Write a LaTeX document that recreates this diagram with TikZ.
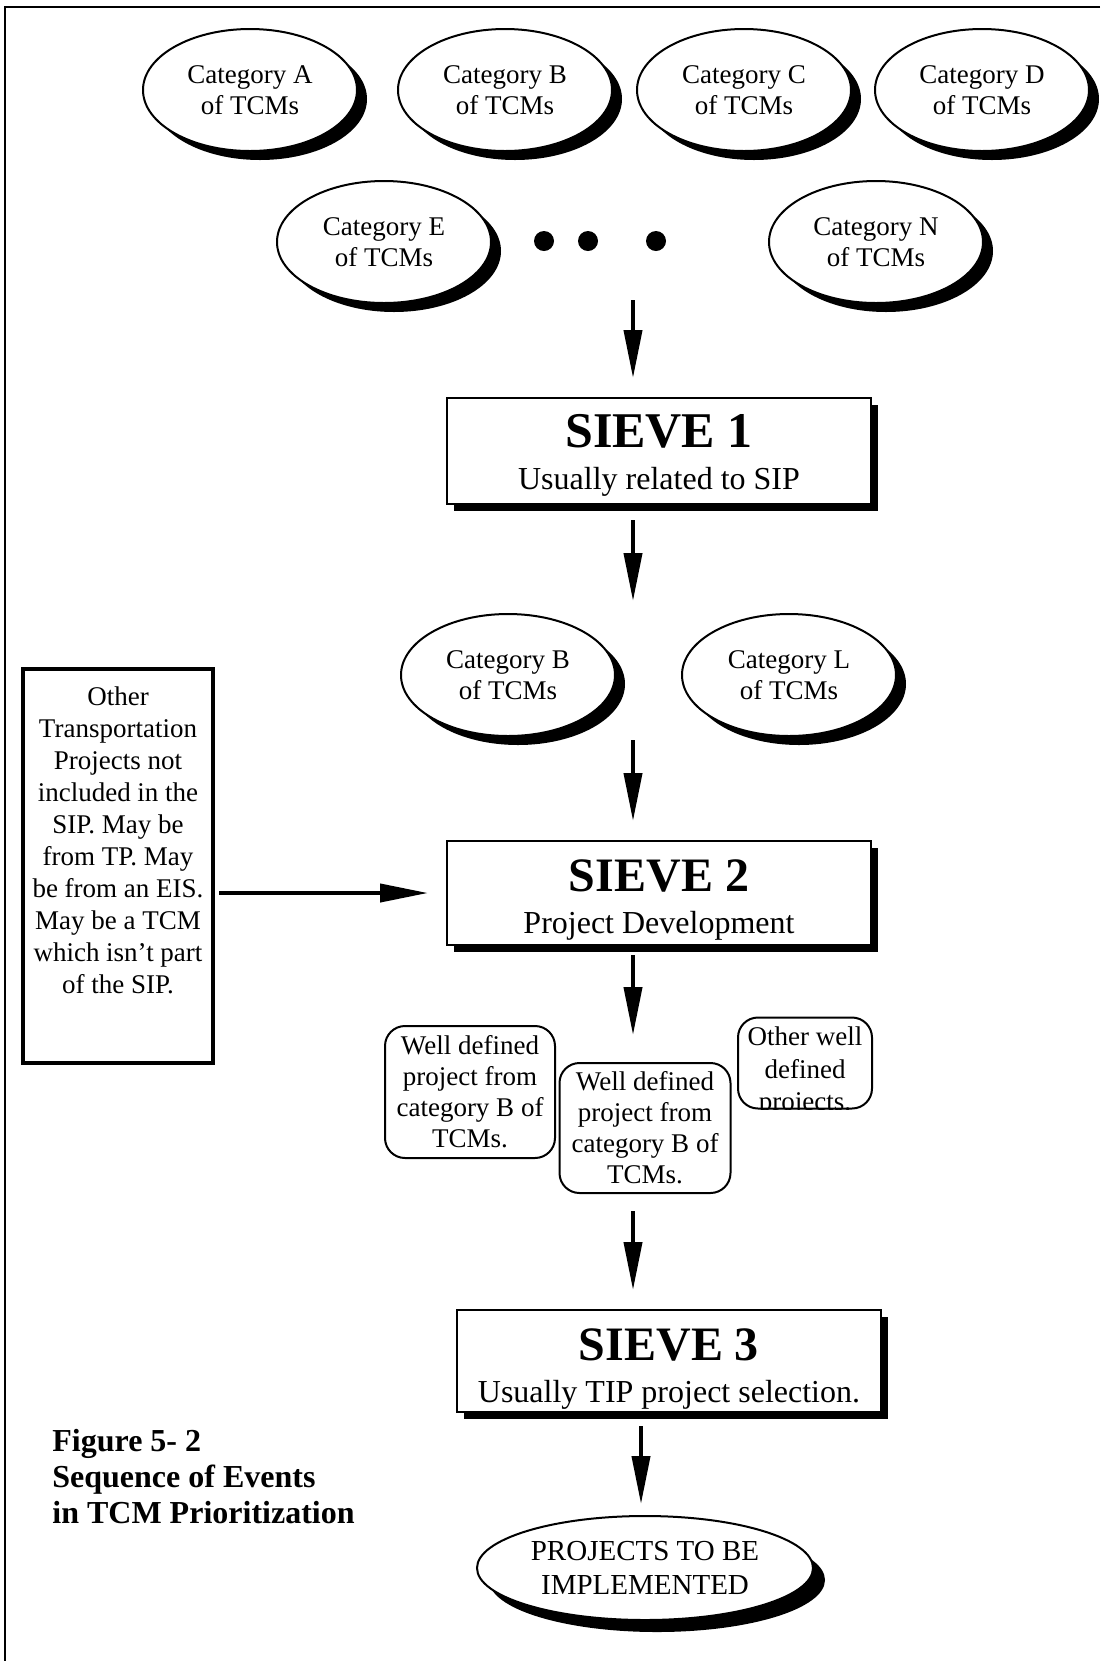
\documentclass[tikz,border=0pt]{standalone}
\usepackage{fontspec}
\setmainfont{Liberation Serif}
\usetikzlibrary{positioning,arrows.meta,shapes.geometric,shadows}
\tikzset{
  base/.style={align=center,inner sep=0pt,font=\fontsize{13.5}{15.5}\selectfont},
  cat/.style={base,ellipse,draw,line width=1pt,fill=white,minimum width=107pt,minimum height=61pt,
    drop shadow={shadow xshift=5pt,shadow yshift=-4.5pt,fill=black,opacity=1}},
  sieve/.style={base,rectangle,draw,line width=1pt,fill=white,minimum width=212pt,minimum height=51pt,
    font=\fontsize{16}{21}\selectfont,
    drop shadow={shadow xshift=3.5pt,shadow yshift=-3.5pt,fill=black,opacity=1}},
  side/.style={rectangle,draw,line width=2pt,minimum width=95pt,minimum height=197pt},
  sidetxt/.style={base,font=\fontsize{13.5}{16}\selectfont},
  wdef/.style={base,rectangle,rounded corners=10pt,draw,line width=1pt,fill=white},
  final/.style={base,ellipse,draw,line width=1pt,fill=white,minimum width=168pt,minimum height=52pt,
    font=\fontsize{14.5}{17}\selectfont,
    drop shadow={shadow xshift=6pt,shadow yshift=-6pt,fill=black,opacity=1}},
  capt/.style={align=left,inner sep=0pt,font=\fontsize{16}{18}\selectfont\bfseries},
  ar/.style={-{Triangle[length=24pt,width=9pt]},line width=2pt},
}

\begin{document}
\begin{tikzpicture}[x=0.5pt,y=-0.5pt]
\useasboundingbox (0,0) rectangle (1100,1661);
\draw[line width=1.2pt] (1100,7) -- (5,7) -- (5,1661);

% ---- categories ----
\node[cat] (catA) at (250,90) {Category A\\of TCMs};
\node[cat] (catB) at (505,90) {Category B\\of TCMs};
\node[cat] (catC) at (744,90) {Category C\\of TCMs};
\node[cat] (catD) at (982,90) {Category D\\of TCMs};
\node[cat] (catE) at (384,242) {Category E\\of TCMs};
\node[cat] (catN) at (876,242) {Category N\\of TCMs};
\foreach \x in {544,588,656} \fill (\x,241) circle (5pt);

% ---- sieve 1 ----
\coordinate (in1) at (633,300);
\node[sieve,minimum height=53pt] (s1) at (659,451) {{\fontsize{25}{21}\selectfont\bfseries\rule{0pt}{21.4pt}SIEVE 1}\\Usually related to SIP};
\draw[ar,shorten >=9.5pt] (in1) -- (in1 |- s1.north);

\coordinate (out1) at (633,601);
\draw[ar,shorten <=7.5pt] (out1 |- s1.south) -- (out1);
\node[cat] (catB2) at (508,675) {Category B\\of TCMs};
\node[cat] (catL) at (789,675) {Category L\\of TCMs};

% ---- sieve 2 ----
\coordinate (in2) at (633,740);
\node[sieve,minimum height=52pt] (s2) at (659,893) {{\fontsize{24}{21}\selectfont\bfseries\rule{0pt}{23pt}SIEVE 2}\\Project Development};
\draw[ar,shorten >=9.5pt] (in2) -- (in2 |- s2.north);

\node[side] (other) at (118,866) {};
\node[sidetxt,anchor=north] (othertxt) at (118,686) {Other\\Transportation\\Projects not\\included in the\\SIP. May be\\from TP. May\\be from an EIS.\\May be a TCM\\which isn’t part\\of the SIP.};
\draw[ar,shorten <=2pt,shorten >=9pt] (other.east |- s2.west) -- (s2.west);

\coordinate (out2) at (633,1035);
\draw[ar,shorten <=4.5pt] (out2 |- s2.south) -- (out2);
\node[wdef,minimum width=85pt,minimum height=66pt] (wd1) at (470,1092) {Well defined\\project from\\category B of\\TCMs.};
\node[wdef,minimum width=85.5pt,minimum height=65pt] (wd2) at (645,1128) {Well defined\\project from\\category B of\\TCMs.};
\node[wdef,minimum width=67pt,minimum height=45.5pt] (wd3) at (805,1063) {};
\begin{scope}
  \clip[rounded corners=10pt] (wd3.south west) rectangle (wd3.north east);
  \node[base,font=\fontsize{13.5}{16.25}\selectfont,anchor=north] (wd3txt) at ([yshift=-5pt]wd3.north) {Other well\\defined\\projects.};
\end{scope}

% ---- sieve 3 ----
\coordinate (in3) at (633,1211);
\node[sieve,minimum height=51pt] (s3) at (669,1361) {{\fontsize{24}{21}\selectfont\bfseries\rule{0pt}{24pt}SIEVE 3}\\Usually TIP project selection.};
\draw[ar,shorten >=9.5pt] (in3) -- (in3 |- s3.north);

\node[final] (impl) at (645,1568) {PROJECTS TO BE\\IMPLEMENTED};
\draw[ar,shorten <=6.5pt,shorten >=5.5pt] ([xshift=-14pt]s3.south) -- ([xshift=-2pt]impl.north);

\node[capt,anchor=north west] (fig) at (52,1429) {Figure 5- 2\\Sequence of Events\\in TCM Prioritization};
\end{tikzpicture}
\end{document}
